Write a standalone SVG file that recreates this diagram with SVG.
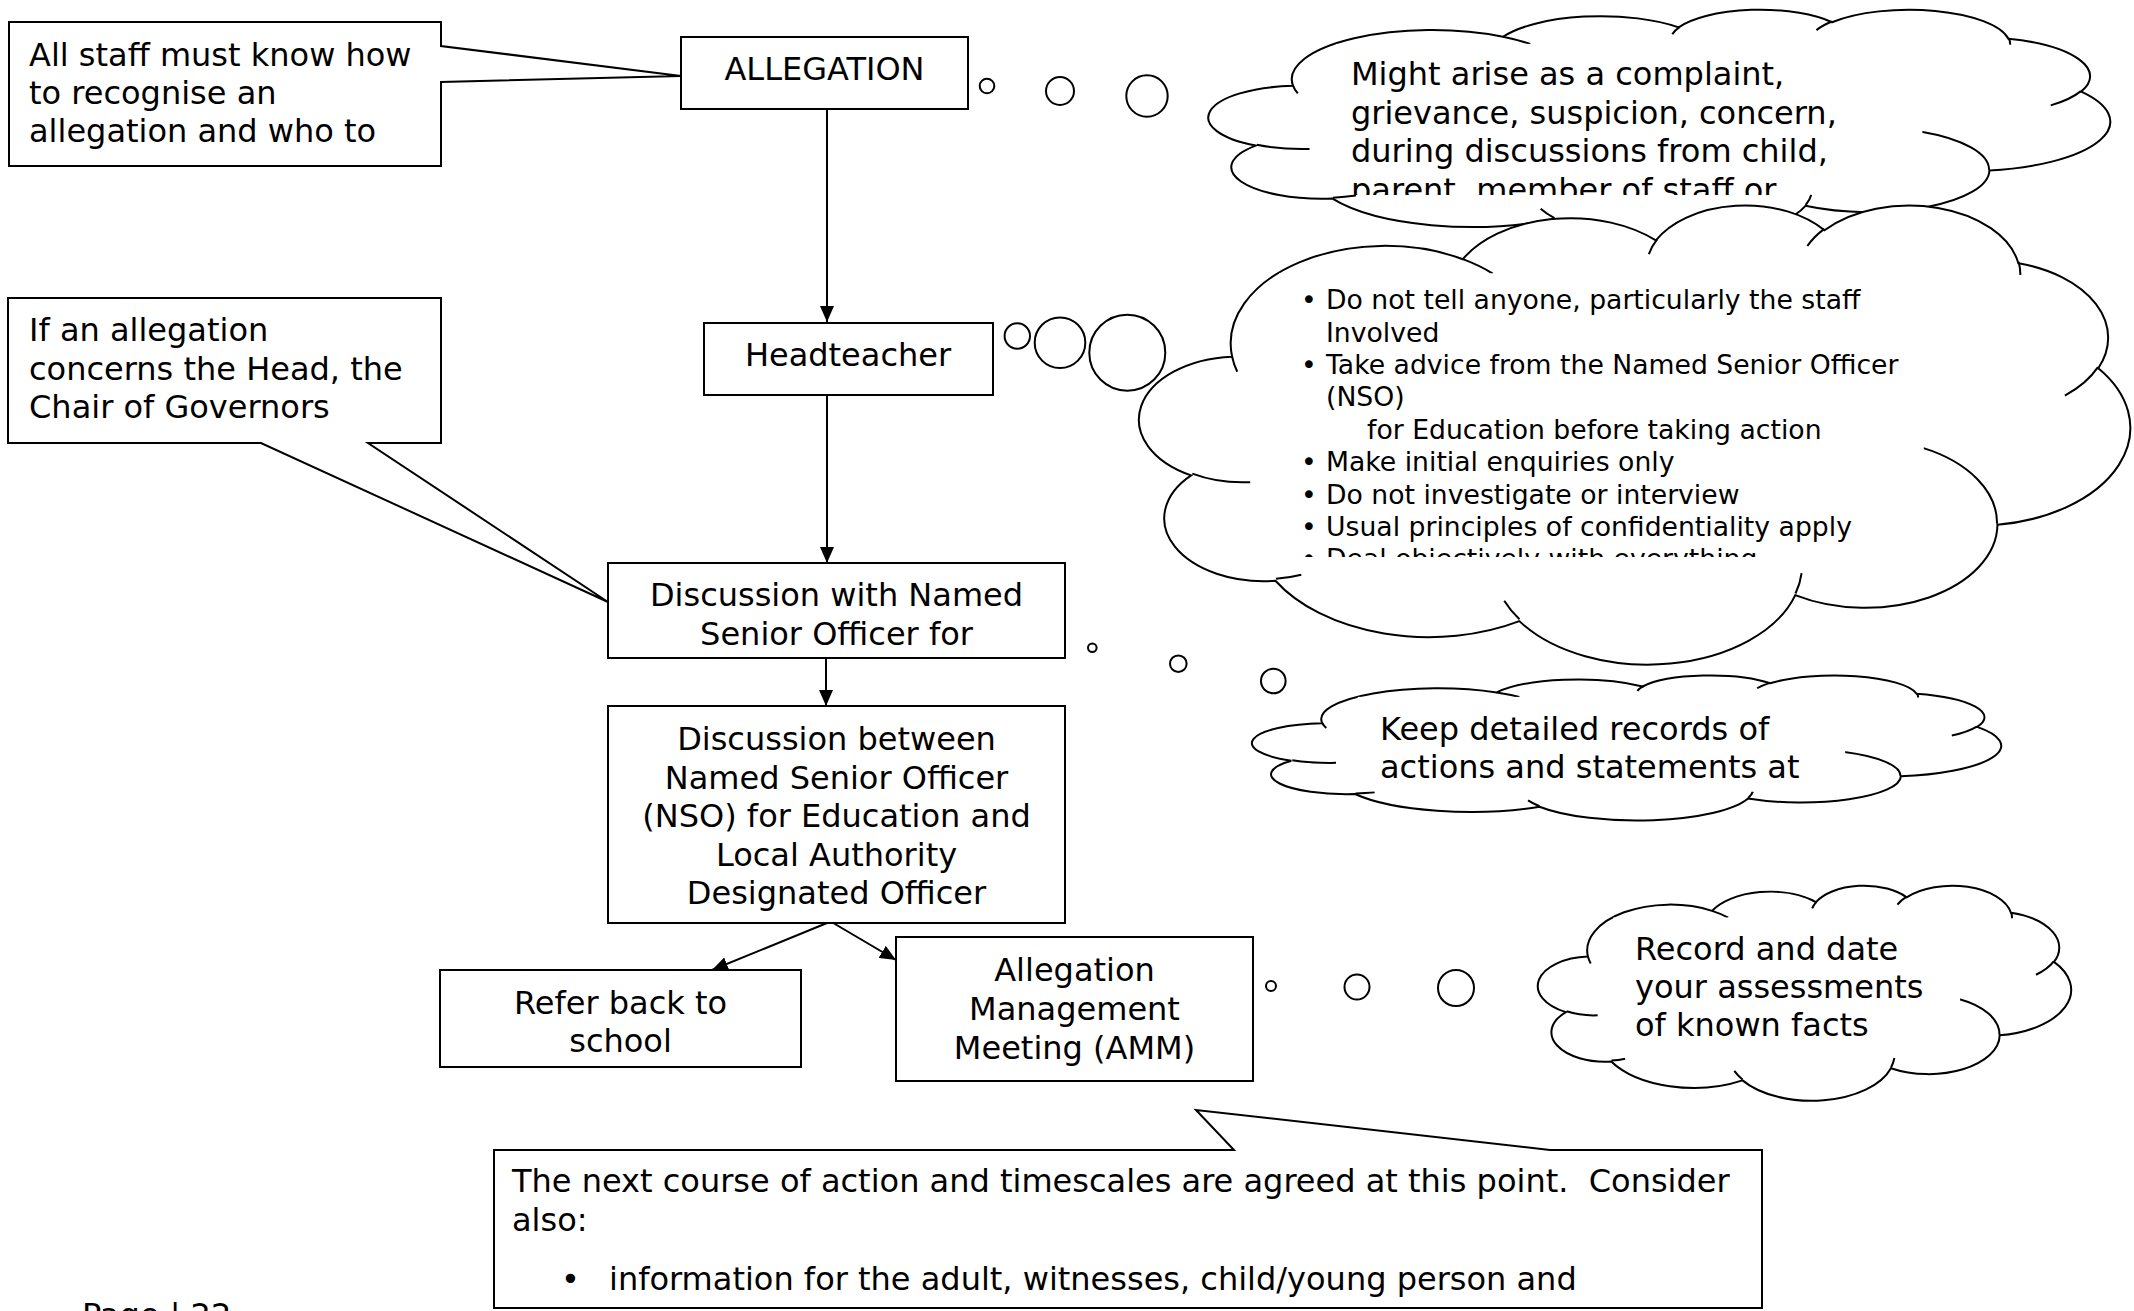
<svg xmlns="http://www.w3.org/2000/svg" xmlns:xlink="http://www.w3.org/1999/xlink" width="2134" height="1311" viewBox="0 0 2134 1311">
<style>
.box{fill:#fff;stroke:#000;stroke-width:2}
.t{font-family:"DejaVu Sans",Verdana,sans-serif;font-size:32px;fill:#000}
.ts{font-size:26.67px}
.mid{text-anchor:middle}
.conn{stroke:#000;stroke-width:2;fill:none}
.bub{fill:#fff;stroke:#000;stroke-width:2}
.cl{fill:#fff;stroke:#000;stroke-width:2}
.ci{fill:none;stroke:#000;stroke-width:2}
.tb{fill:#fff;stroke:none}
</style>
<defs>
<marker id="ah" markerUnits="userSpaceOnUse" markerWidth="16" markerHeight="14" refX="16" refY="7" orient="auto">
<path d="M0,0 L16,7 L0,14 Z" fill="#000"/>
</marker>
<path id="cloudOutline" vector-effect="non-scaling-stroke" d="M3900 14370 A6753 9190 0 0 1 13998 5196 A5333 7267 0 0 1 22449 3427 A4365 5945 0 0 1 29827 2477 A4857 6595 0 0 1 38313 5572 A5333 7273 0 0 1 41813 15455 A6775 9220 0 0 1 37399 30197 A5785 7867 0 0 1 28550 36807 A6752 9215 0 0 1 16474 39257 A7720 10543 0 0 1 5796 35462 A4360 5918 0 0 1 2106 25539 A4345 5945 0 0 1 3900 14370 Z"/>
<path id="cloudInner" vector-effect="non-scaling-stroke" d="M4693 26177 A4345 5945 0 0 1 2159 25379 M6928 34899 A4360 5918 0 0 1 5819 35281 M16478 39090 A6752 9215 0 0 1 15811 37350 M28827 34751 A6752 9215 0 0 1 28560 36660 M34129 22954 A5785 7867 0 0 1 37381 30090 M41798 15354 A5333 7273 0 0 1 40350 18029 M38324 5426 A4857 6595 0 0 1 38400 6690 M29078 3952 A4857 6595 0 0 1 29820 2339 M22141 4720 A4365 5945 0 0 1 22500 3331 M14000 5192 A6753 9190 0 0 1 15309 6549 M4127 15789 A6753 9190 0 0 1 3900 14371"/>
<clipPath id="clip1"><rect x="1335" y="43" width="588" height="152"/></clipPath>
<clipPath id="clip2"><rect x="1279" y="273" width="645" height="284"/></clipPath>
<clipPath id="clip3"><rect x="1357" y="696" width="488" height="95"/></clipPath>
</defs>

<g id="connectors">
<path class="conn" d="M827,109 V322" marker-end="url(#ah)"/>
<path class="conn" d="M827,395 V563" marker-end="url(#ah)"/>
<path class="conn" d="M826,658 V706" marker-end="url(#ah)"/>
<path class="conn" d="M827,923 L712,970" marker-end="url(#ah)"/>
<path class="conn" d="M818,914 L896,960" marker-end="url(#ah)"/>
</g>

<g id="callout-staff">
<path class="box" d="M9,22 H441 V46 L681,76 L441,82 V166 H9 Z"/>
<text class="t" x="29" y="66">All staff must know how</text>
<text class="t" x="29" y="104">to recognise an</text>
<text class="t" x="29" y="142">allegation and who to</text>
</g>

<g id="callout-head">
<path class="box" d="M8,298 H441 V443 H368 L608,602 L261,443 H8 Z"/>
<text class="t" x="29" y="341">If an allegation</text>
<text class="t" x="29" y="380">concerns the Head, the</text>
<text class="t" x="29" y="418">Chair of Governors</text>
</g>

<g id="node-allegation">
<rect class="box" x="681" y="37" width="287" height="72"/>
<text class="t mid" x="824.5" y="80">ALLEGATION</text>
</g>

<g id="node-headteacher">
<rect class="box" x="704" y="323" width="289" height="72"/>
<text class="t mid" x="848" y="366">Headteacher</text>
</g>

<g id="node-discussion-nso">
<rect class="box" x="608" y="563" width="457" height="95"/>
<text class="t mid" x="836.5" y="606">Discussion with Named</text>
<text class="t mid" x="836.5" y="645">Senior Officer for</text>
</g>

<g id="node-discussion-between">
<rect class="box" x="608" y="706" width="457" height="217"/>
<text class="t mid" x="836.5" y="750">Discussion between</text>
<text class="t mid" x="836.5" y="789">Named Senior Officer</text>
<text class="t mid" x="836.5" y="827">(NSO) for Education and</text>
<text class="t mid" x="836.5" y="866">Local Authority</text>
<text class="t mid" x="836.5" y="904">Designated Officer</text>
</g>

<g id="node-refer">
<rect class="box" x="440" y="970" width="361" height="97"/>
<text class="t mid" x="620.5" y="1014">Refer back to</text>
<text class="t mid" x="620.5" y="1052">school</text>
</g>

<g id="node-amm">
<rect class="box" x="896" y="937" width="357" height="144"/>
<text class="t mid" x="1074.5" y="981">Allegation</text>
<text class="t mid" x="1074.5" y="1020">Management</text>
<text class="t mid" x="1074.5" y="1059">Meeting (AMM)</text>
</g>

<g id="cloud-arise">
<circle class="bub" cx="987" cy="86" r="7.3"/>
<circle class="bub" cx="1060" cy="91" r="14"/>
<circle class="bub" cx="1147" cy="96" r="20.7"/>
<g transform="translate(1212,9) scale(0.020787,0.0053472)">
<use xlink:href="#cloudOutline" class="cl"/>
<use xlink:href="#cloudInner" class="ci"/>
</g>
<rect class="tb" x="1335.8" y="43.9" width="586.6" height="150.5"/>
<g clip-path="url(#clip1)">
<text class="t" x="1351" y="85">Might arise as a complaint,</text>
<text class="t" x="1351" y="124">grievance, suspicion, concern,</text>
<text class="t" x="1351" y="162">during discussions from child,</text>
<text class="t" x="1351" y="201">parent, member of staff or</text>
</g>
</g>

<g id="cloud-headteacher">
<circle class="bub" cx="1017.3" cy="336" r="12.7"/>
<circle class="bub" cx="1060" cy="342.7" r="25.3"/>
<circle class="bub" cx="1127.3" cy="352.7" r="38"/>
<g transform="translate(1143,204) scale(0.022847,0.010625)">
<use xlink:href="#cloudOutline" class="cl"/>
<use xlink:href="#cloudInner" class="ci"/>
</g>
<rect class="tb" x="1279" y="273.3" width="644.8" height="299"/>
<g clip-path="url(#clip2)" class="t ts">
<text x="1301" y="309">•</text><text x="1326" y="309">Do not tell anyone, particularly the staff</text>
<text x="1326" y="342">Involved</text>
<text x="1301" y="374">•</text><text x="1326" y="374">Take advice from the Named Senior Officer</text>
<text x="1326" y="406">(NSO)</text>
<text x="1367" y="439">for Education before taking action</text>
<text x="1301" y="471">•</text><text x="1326" y="471">Make initial enquiries only</text>
<text x="1301" y="504">•</text><text x="1326" y="504">Do not investigate or interview</text>
<text x="1301" y="536">•</text><text x="1326" y="536">Usual principles of confidentiality apply</text>
<text x="1301" y="568">•</text><text x="1326" y="568">Deal objectively with everything</text>
</g>
</g>

<g id="cloud-records">
<circle class="bub" cx="1092.3" cy="647.7" r="4.3"/>
<circle class="bub" cx="1178.3" cy="663.7" r="8.3"/>
<circle class="bub" cx="1273.3" cy="681" r="12.3"/>
<g transform="translate(1255,675) scale(0.017269,0.0033565)">
<use xlink:href="#cloudOutline" class="cl"/>
<use xlink:href="#cloudInner" class="ci"/>
</g>
<rect class="tb" x="1357.8" y="696.9" width="487.4" height="94.5"/>
<g clip-path="url(#clip3)">
<text class="t" x="1380" y="740">Keep detailed records of</text>
<text class="t" x="1380" y="778">actions and statements at</text>
</g>
</g>

<g id="cloud-assess">
<circle class="bub" cx="1271" cy="986" r="5"/>
<circle class="bub" cx="1357" cy="987" r="12.5"/>
<circle class="bub" cx="1456" cy="988" r="18"/>
<g transform="translate(1540,885) scale(0.012292,0.0049769)">
<use xlink:href="#cloudOutline" class="cl"/>
<use xlink:href="#cloudInner" class="ci"/>
</g>
<rect class="tb" x="1613.2" y="917.5" width="346.9" height="140.1"/>
<text class="t" x="1635" y="960">Record and date</text>
<text class="t" x="1635" y="998">your assessments</text>
<text class="t" x="1635" y="1036">of known facts</text>
</g>

<g id="callout-next">
<path class="box" d="M494,1150 H1234 L1196,1110 L1550,1150 H1762 V1308 H494 Z"/>
<text class="t" x="512" y="1192" xml:space="preserve">The next course of action and timescales are agreed at this point.  Consider</text>
<text class="t" x="512" y="1231">also:</text>
<text class="t" x="561" y="1290">•</text>
<text class="t" x="609" y="1290">information for the adult, witnesses, child/young person and</text>
</g>

<text class="t" x="82" y="1326">Page | 22</text>
</svg>
